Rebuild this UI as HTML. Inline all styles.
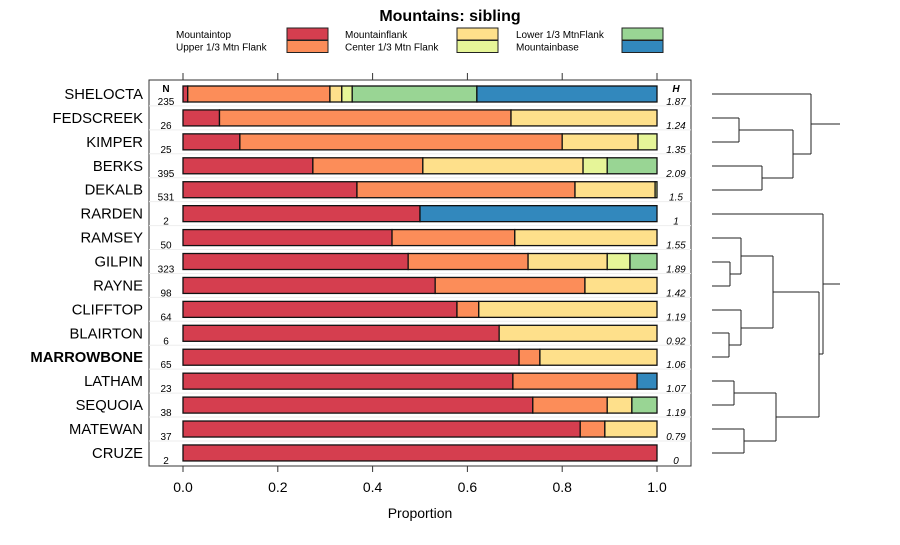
<!DOCTYPE html>
<html><head><meta charset="utf-8"><style>
body{margin:0;background:#fff}
svg text{font-family:"Liberation Sans",sans-serif}
</style></head><body>
<svg id="c" width="900" height="540" xmlns="http://www.w3.org/2000/svg">
<text x="450" y="21" text-anchor="middle" font-size="16" font-weight="bold">Mountains: sibling</text>
<g id="legend"></g>
<rect x="149" y="80" width="542" height="386" fill="none" stroke="#333"/>
<g id="bars"></g>
<g id="axis"></g>
<text x="420" y="518" text-anchor="middle" font-size="14">Proportion</text>
<text x="166" y="92" text-anchor="middle" font-size="10" font-weight="bold">N</text>
<text x="676" y="92" text-anchor="middle" font-size="10" font-weight="bold" font-style="italic">H</text>
<g id="dendro" stroke="#222" fill="none" stroke-width="1"></g>
</svg>
<script>
const categories=["SHELOCTA","FEDSCREEK","KIMPER","BERKS","DEKALB","RARDEN","RAMSEY","GILPIN","RAYNE","CLIFFTOP","BLAIRTON","MARROWBONE","LATHAM","SEQUOIA","MATEWAN","CRUZE"];
const seriesNames=["Mountaintop","Upper 1/3 Mtn Flank","Mountainflank","Center 1/3 Mtn Flank","Lower 1/3 MtnFlank","Mountainbase"];
const colors=["#D53E4F","#FC8D59","#FEE08B","#E6F598","#99D594","#3288BD"];
const mountaintop=[0.01,0.077,0.12,0.274,0.367,0.5,0.441,0.475,0.532,0.578,0.667,0.709,0.696,0.738,0.838,1];
const upperFlank=[0.30,0.615,0.68,0.232,0.46,0,0.259,0.253,0.316,0.046,0,0.044,0.262,0.157,0.052,0];
const mountainflank=[0.025,0.308,0.16,0.338,0.169,0,0.30,0.167,0.152,0.376,0.333,0.247,0,0.052,0.11,0];
const centerFlank=[0.022,0,0.04,0.051,0.004,0,0,0.048,0,0,0,0,0,0,0,0];
const lowerFlank=[0.263,0,0,0.105,0,0,0,0.057,0,0,0,0,0,0.053,0,0];
const mountainbase=[0.38,0,0,0,0,0.5,0,0,0,0,0,0,0.042,0,0,0];
const nValues=[235,26,25,395,531,2,50,323,98,64,6,65,23,38,37,2];
const hValues=["1.87","1.24","1.35","2.09","1.5","1","1.55","1.89","1.42","1.19","0.92","1.06","1.07","1.19","0.79","0"];
const ticks=[0,0.2,0.4,0.6,0.8,1.0];
const tickLabels=["0.0","0.2","0.4","0.6","0.8","1.0"];
const series=[mountaintop,upperFlank,mountainflank,centerFlank,lowerFlank,mountainbase];
const NS="http://www.w3.org/2000/svg";
const xs=v=>183+v*474;
const ys=i=>94+i*23.93;
function mk(tag,attrs,parent,txt){const e=document.createElementNS(NS,tag);for(const k in attrs)e.setAttribute(k,attrs[k]);if(txt!==undefined)e.textContent=txt;parent.appendChild(e);return e;}
const lg=document.getElementById('legend');
const lx=[[176,287],[345,457],[516,622]];
seriesNames.forEach((s,k)=>{const col=Math.floor(k/2),row=k%2;const y=28+row*12.5;
 const t=mk('text',{x:lx[col][0],y:y+10,'font-size':10},lg,s);
 
 
 const r=mk('rect',{x:lx[col][1],y:y,width:41,height:12,fill:colors[k],stroke:'#222'},lg);
 
 
});
const bg=document.getElementById('bars');
categories.forEach((c,i)=>{const y=ys(i);
 if(i>0){const l=mk('line',{x1:149,x2:691,y1:y-12,y2:y-12,stroke:'#eee'},bg);
 
 }
 const lab=mk('text',{x:143,y:y+5,'text-anchor':'end','font-size':14.8,'font-weight':c==='MARROWBONE'?'bold':'normal'},bg,c);
 
 
 const n=mk('text',{x:166,y:y+11,'text-anchor':'middle','font-size':10},bg,nValues[i]);
 
 
 const h=mk('text',{x:676,y:y+11,'text-anchor':'middle','font-size':10,'font-style':'italic'},bg,hValues[i]);
 
 
 let cum=0;
 series.forEach((arr,k)=>{const v=arr[i];if(v<=0)return;
  const r=mk('rect',{x:xs(cum),y:y-8,width:xs(cum+v)-xs(cum),height:16,fill:colors[k],stroke:'#111','stroke-width':1.3},bg);
  
  
  cum+=v;});
});
const ax=document.getElementById('axis');
ticks.forEach((t,j)=>{const x=xs(t);
 const a=mk('line',{x1:x,x2:x,y1:466,y2:472,stroke:'#333'},ax);
 
 
 const b=mk('line',{x1:x,x2:x,y1:73,y2:80,stroke:'#333'},ax);
 
 
 const tl=mk('text',{x:x,y:492,'text-anchor':'middle','font-size':14},ax,tickLabels[j]);
 
 
});
const d=document.getElementById('dendro');
const segs=[
[712,94,811,94],[712,118,739,118],[712,142,739,142],[739,118,739,142],[739,130,793,130],
[712,166,762,166],[712,190,762,190],[762,166,762,190],[762,178,793,178],[793,130,793,178],
[793,154,811,154],[811,94,811,154],[811,124,840,124],
[712,214,823,214],[712,238,741,238],[712,262,730,262],[712,286,730,286],[730,262,730,286],[730,274,741,274],[741,238,741,274],[741,256,773,256],
[712,310,741,310],[712,333,729,333],[712,357,729,357],[729,333,729,357],[729,345,741,345],[741,310,741,345],[741,328,773,328],[773,256,773,328],[773,292,819,292],
[712,381,734,381],[712,405,734,405],[734,381,734,405],[734,393,776,393],[712,429,744,429],[712,453,744,453],[744,429,744,453],[744,441,776,441],[776,393,776,441],[776,417,819,417],
[819,292,819,417],[819,354,823,354],[823,214,823,354],[823,284,840,284]];
segs.forEach(s=>{const l=mk('line',{x1:s[0],y1:s[1],x2:s[2],y2:s[3]},d);
 
 });
</script>
</body></html>
